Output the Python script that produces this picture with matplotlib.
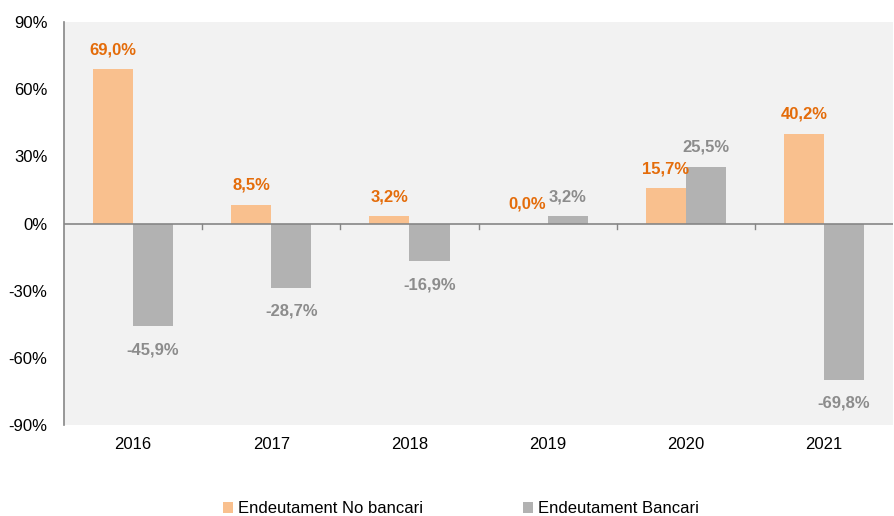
import matplotlib.pyplot as plt
import numpy as np

plt.rcParams["font.family"] = ["Liberation Sans", "DejaVu Sans"]

years = ["2016", "2017", "2018", "2019", "2020", "2021"]
no_bancari = [69.0, 8.5, 3.2, 0.0, 15.7, 40.2]
bancari = [-45.9, -28.7, -16.9, 3.2, 25.5, -69.8]
y_ticks = [-90, -60, -30, 0, 30, 60, 90]

ORANGE = "#F9C08E"
GRAY = "#B2B2B2"
ORANGE_TXT = "#E46C0A"
GRAY_TXT = "#8C8C8C"
AXIS = "#868686"


def fmt(v):
    return f"{v:.1f}".replace(".", ",") + "%"


fig = plt.figure(figsize=(8.95, 5.16), dpi=100)
ax = fig.add_axes([0.0715, 0.1764, 0.9265, 0.7806])
ax.set_facecolor("#F2F2F2")

x = np.arange(len(years))
w = 0.29
ax.bar(x - w / 2, no_bancari, w, color=ORANGE, label="Endeutament No bancari", zorder=2)
ax.bar(x + w / 2, bancari, w, color=GRAY, label="Endeutament Bancari", zorder=2)

# data labels
for xi, v in zip(x - w / 2, no_bancari):
    off = 14 if v >= 0 else -16
    ax.annotate(fmt(v), (xi, v), xytext=(0, off), textcoords="offset points",
                ha="center", va="center", color=ORANGE_TXT, fontsize=12, weight="bold")
for xi, v in zip(x + w / 2, bancari):
    off = 14 if v >= 0 else -17
    ax.annotate(fmt(v), (xi, v), xytext=(0, off), textcoords="offset points",
                ha="center", va="center", color=GRAY_TXT, fontsize=12, weight="bold")

ax.set_xlim(-0.5, len(years) - 0.5)
ax.set_ylim(-90, 90)
ax.set_yticks(y_ticks)
ax.set_yticklabels([f"{t}%" for t in y_ticks], fontsize=12)
ax.tick_params(axis="y", length=0, pad=12)

# zero line with separators between categories
ax.axhline(0, color=AXIS, lw=1.2, zorder=3)
for b in np.arange(0.5, len(years) - 0.5):
    ax.plot([b, b], [0, -2.2], color=AXIS, lw=1.0, zorder=3)

ax.set_xticks(x)
ax.set_xticklabels(years, fontsize=12)
ax.tick_params(axis="x", length=0, pad=9)

for s in ["top", "right", "bottom"]:
    ax.spines[s].set_visible(False)
ax.spines["left"].set_color(AXIS)
ax.spines["left"].set_linewidth(1.2)

fig.legend(loc="lower center", ncol=2, frameon=False, fontsize=12,
           bbox_to_anchor=(0.515, -0.03), handlelength=0.6, handleheight=0.6,
           handletextpad=0.3, columnspacing=6.0)

fig.savefig("out.png", dpi=100)
